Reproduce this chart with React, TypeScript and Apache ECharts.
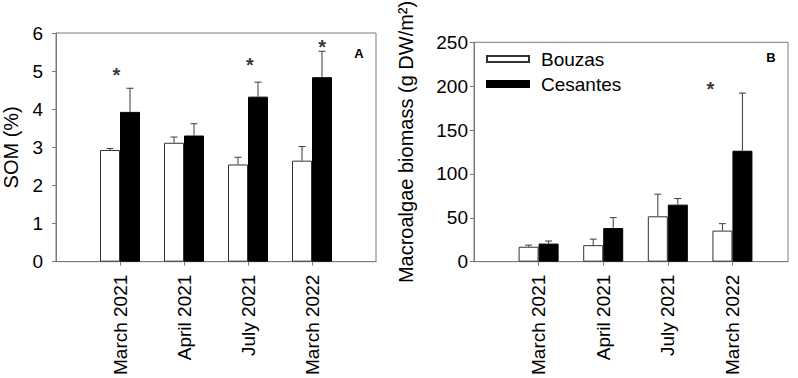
import React, { useEffect, useRef } from "react";
import * as echarts from "echarts";

const categories = ["March 2021", "April 2021", "July 2021", "March 2022"];
const seriesNames = ["Bouzas", "Cesantes"];

const somBouzas = [2.93, 3.12, 2.55, 2.65];
const somBouzasErr = [0.04, 0.15, 0.19, 0.37];
const somCesantes = [3.93, 3.31, 4.33, 4.84];
const somCesantesErr = [0.62, 0.31, 0.38, 0.68];

const bioBouzas = [17.0, 18.8, 51.7, 35.4];
const bioBouzasErr = [1.8, 6.9, 25.2, 7.9];
const bioCesantes = [20.6, 38.3, 65.0, 126.4];
const bioCesantesErr = [2.9, 11.9, 6.9, 65.7];

const somYTicks = [0, 1, 2, 3, 4, 5, 6];
const bioYTicks = [0, 50, 100, 150, 200, 250];

// significance asterisks, in data coordinates [category position, value]
const somStars = [
  [0.944, 4.89],
  [3.03, 5.15],
  [4.16, 5.64],
];
const bioStars = [[3.66, 197]];

const FONT = "Liberation Sans, Arial, Helvetica, sans-serif";
const FRAME = "#7a7a7a";
const BAR_W = 20;

const catPos = categories.map((_, i) => i + 1);

function barSeries(name: string, vals: number[], axis: number) {
  const white = name === "Bouzas";
  return {
    type: "bar",
    name,
    xAxisIndex: axis,
    yAxisIndex: axis,
    barWidth: BAR_W,
    barGap: "0%",
    data: vals.map((v, i) => [catPos[i], v]),
    itemStyle: {
      color: white ? "#ffffff" : "#000000",
      borderColor: white ? "#333333" : "#000000",
      borderWidth: 1,
    },
    emphasis: { disabled: true },
    z: 2,
  };
}

function errSeries(vals: number[], errs: number[], axis: number, side: number) {
  return {
    type: "custom",
    xAxisIndex: axis,
    yAxisIndex: axis,
    data: vals.map((v, i) => [catPos[i], v, errs[i]]),
    encode: { x: 0, y: 1 },
    z: 5,
    silent: true,
    renderItem: (params: any, api: any) => {
      const x = api.value(0);
      const y = api.value(1);
      const e = api.value(2);
      const p0 = api.coord([x, y]);
      const p1 = api.coord([x, y + e]);
      const cx = p0[0] + (side * BAR_W) / 2;
      const style = { stroke: "#3a3a3a", lineWidth: 1 };
      return {
        type: "group",
        children: [
          { type: "line", shape: { x1: cx, y1: p0[1], x2: cx, y2: p1[1] }, style },
          { type: "line", shape: { x1: cx - 3.5, y1: p1[1], x2: cx + 3.5, y2: p1[1] }, style },
        ],
      };
    },
  };
}

function starSeries(pts: number[][], axis: number) {
  return {
    type: "scatter",
    xAxisIndex: axis,
    yAxisIndex: axis,
    symbolSize: 0,
    silent: true,
    data: pts,
    label: {
      show: true,
      position: "inside",
      formatter: "*",
      fontSize: 20,
      fontWeight: "bold",
      fontFamily: FONT,
      color: "#000",
    },
    z: 6,
  };
}

function xAxis(grid: number, max: number) {
  return {
    type: "value",
    gridIndex: grid,
    min: 0,
    max,
    interval: 1,
    splitLine: { show: false },
    axisLine: { show: true, lineStyle: { color: FRAME, width: 1 } },
    axisTick: { show: true, length: 4, customValues: catPos, lineStyle: { color: FRAME } },
    axisLabel: {
      customValues: catPos,
      rotate: 90,
      margin: 13,
      fontSize: 19,
      fontFamily: FONT,
      color: "#000",
      formatter: (v: number) => categories[Math.round(v) - 1] ?? "",
    },
  };
}

function yAxis(grid: number, ticks: number[], name: string, gap: number, labelMargin: number, pad: number) {
  return {
    type: "value",
    gridIndex: grid,
    min: ticks[0],
    max: ticks[ticks.length - 1],
    interval: ticks[1] - ticks[0],
    splitLine: { show: false },
    axisLine: { show: true, lineStyle: { color: FRAME, width: 1 } },
    axisTick: { show: true, length: 4, lineStyle: { color: FRAME } },
    axisLabel: { margin: labelMargin, fontSize: 19, fontFamily: FONT, color: "#000" },
    name,
    nameLocation: "middle",
    nameGap: gap,
    nameTextStyle: { fontSize: 20, fontFamily: FONT, color: "#000", padding: [0, 0, 0, pad] },
  };
}

export default function App() {
  const ref = useRef<HTMLDivElement>(null);
  useEffect(() => {
    if (!ref.current) return;
    const chart = echarts.init(ref.current, null, { renderer: "svg" });
    chart.setOption({
      animation: false,
      backgroundColor: "#ffffff",
      textStyle: { fontFamily: FONT },
      grid: [
        { left: 53, top: 33, width: 323, height: 231, show: true, borderColor: FRAME, borderWidth: 1, backgroundColor: "transparent" },
        { left: 474, top: 33, width: 314, height: 231, show: true, borderColor: FRAME, borderWidth: 1, backgroundColor: "transparent" },
      ],
      xAxis: [xAxis(0, 5), xAxis(1, 4.86)],
      yAxis: [
        yAxis(0, somYTicks, "SOM (%)", 35, 13, 0),
        yAxis(1, bioYTicks, "Macroalgae biomass (g DW/m²)", 58, 6, 20),
      ],
      legend: {
        data: seriesNames,
        left: 486,
        top: 49,
        orient: "vertical",
        padding: 0,
        itemWidth: 42,
        itemHeight: 6,
        itemGap: 5,
        icon: "rect",
        selectedMode: false,
        textStyle: { fontSize: 19, fontFamily: FONT, color: "#000", lineHeight: 20, padding: [0, 0, 0, 7] },
      },
      graphic: [
        { type: "text", x: 359, y: 53.5, style: { text: "A", font: `bold 13px ${FONT}`, fill: "#000", textAlign: "center", textVerticalAlign: "middle" } },
        { type: "text", x: 771, y: 57.5, style: { text: "B", font: `bold 13px ${FONT}`, fill: "#000", textAlign: "center", textVerticalAlign: "middle" } },
      ],
      series: [
        barSeries(seriesNames[0], somBouzas, 0),
        barSeries(seriesNames[1], somCesantes, 0),
        errSeries(somBouzas, somBouzasErr, 0, -1),
        errSeries(somCesantes, somCesantesErr, 0, 1),
        starSeries(somStars, 0),
        barSeries(seriesNames[0], bioBouzas, 1),
        barSeries(seriesNames[1], bioCesantes, 1),
        errSeries(bioBouzas, bioBouzasErr, 1, -1),
        errSeries(bioCesantes, bioCesantesErr, 1, 1),
        starSeries(bioStars, 1),
      ],
    });
    return () => chart.dispose();
  }, []);
  return (
    <div
      ref={ref}
      style={{ position: "absolute", left: 0, top: 0, width: 798, height: 378, background: "#fff" }}
    />
  );
}
